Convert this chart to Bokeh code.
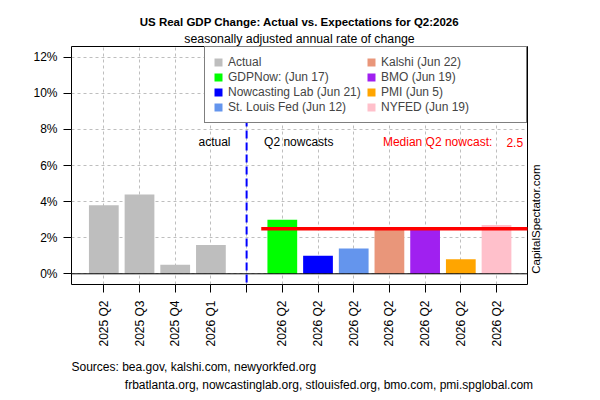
import math
import numpy as np
from bokeh.plotting import figure
from bokeh.models import (Range1d, FixedTicker, Label, Span, Legend, LegendItem,
                          ColumnDataSource, Title, LinearAxis)
from bokeh.embed import file_html
from bokeh.resources import INLINE

# Completed quarters (real GDP, SAAR %)
actual_quarters = ["2025 Q2", "2025 Q3", "2025 Q4", "2026 Q1"]
actual_values = [3.8, 4.4, 0.5, 1.6]
actual_color = "#BEBEBE"

# Nowcasts for Q2 2026
nowcast_quarter = "2026 Q2"
nowcast_sources = ["GDPNow: (Jun 17)", "Nowcasting Lab (Jun 21)", "St. Louis Fed (Jun 12)",
                   "Kalshi (Jun 22)", "BMO (Jun 19)", "PMI (Jun 5)", "NYFED (Jun 19)"]
nowcast_values = [3.0, 1.0, 1.4, 2.5, 2.5, 0.8, 2.7]
nowcast_colors = ["#00FF00", "#0000FF", "#6495ED", "#E9967A", "#A020F0", "#FFA500", "#FFC0CB"]

y_ticks = [0, 2, 4, 6, 8, 10, 12]

FONT = "Liberation Sans"
NBSP = "\u00a0"

# slot layout: actual bars, one empty separator slot, then the nowcasts
actual_x = list(range(len(actual_quarters)))
sep_x = len(actual_quarters)
nowcast_x = [sep_x + 1 + i for i in range(len(nowcast_values))]
median_nowcast = float(np.median(nowcast_values))

tick_labels = {}
for x, q in zip(actual_x, actual_quarters):
    tick_labels[x] = q
tick_labels[sep_x] = ""
for x in nowcast_x:
    tick_labels[x] = nowcast_quarter

p = figure(width=600, height=400, output_backend="svg", toolbar_location=None,
           title=None,
           x_range=Range1d(-0.905, 11.868), y_range=Range1d(-0.593, 12.593),
           min_border_left=71, min_border_right=73, min_border_top=46,
           min_border_bottom=116)
p.background_fill_color = "white"
p.border_fill_color = "white"
p.outline_line_color = "black"
p.outline_line_width = 1

# grids
for g in (p.xgrid, p.ygrid):
    g.grid_line_color = "#BEBEBE"
    g.grid_line_dash = "3 3"
    g.grid_line_width = 1

# axes
p.xaxis.ticker = FixedTicker(ticks=list(tick_labels.keys()))
p.xaxis.major_label_overrides = {k: v for k, v in tick_labels.items()}
p.xaxis.major_label_orientation = math.pi / 2
p.yaxis.ticker = FixedTicker(ticks=y_ticks)
p.yaxis.major_label_overrides = {t: f"{t}%" for t in y_ticks}
for ax in (p.xaxis, p.yaxis):
    ax.axis_line_color = None
    ax.major_tick_line_color = "black"
    ax.major_tick_out = 8
    ax.major_tick_in = 0
    ax.minor_tick_line_color = None
    ax.major_label_text_font = FONT
    ax.major_label_text_font_size = "12px"
    ax.major_label_text_color = "black"
p.xaxis.major_label_standoff = 8
p.yaxis.major_label_standoff = 6

# credit line along the right edge, starting at the zero line
credit_axis = LinearAxis(ticker=FixedTicker(ticks=[0]), axis_line_color=None,
                         major_tick_line_color=None, minor_tick_line_color=None,
                         major_tick_out=0, major_tick_in=0, major_label_standoff=9,
                         major_label_overrides={0: "CapitalSpectator.com"},
                         major_label_orientation=math.pi / 2,
                         major_label_text_font=FONT, major_label_text_font_size="11.5px",
                         major_label_text_color="black")
p.add_layout(credit_axis, "right")

# bars
bar_w = 1 / 1.2
act_src = ColumnDataSource(dict(x=actual_x, top=actual_values))
r_act = p.vbar(x="x", top="top", bottom=0, width=bar_w, source=act_src,
               fill_color=actual_color, line_color=None)
now_src = ColumnDataSource(dict(x=nowcast_x, top=nowcast_values, color=nowcast_colors,
                                name=nowcast_sources))
r_now = p.vbar(x="x", top="top", bottom=0, width=bar_w, source=now_src,
               fill_color="color", line_color=None)

# zero line and separator between actuals and nowcasts
p.add_layout(Span(location=0, dimension="width", line_color="black", line_width=1))
p.add_layout(Span(location=sep_x, dimension="height", line_color="#0000FF",
                  line_width=2, line_dash="8 4"))

# median nowcast line
p.segment(x0=[nowcast_x[0] - 0.59], x1=[nowcast_x[-1] + 1.0],
          y0=[median_nowcast], y1=[median_nowcast], line_color="#FF0000", line_width=3.5)

# in-plot labels
def data_label(x, y, text, color="black", align="center"):
    p.add_layout(Label(x=x, y=y, text=text, text_font=FONT, text_font_size="12px",
                       text_color=color, text_align=align, text_baseline="middle"))

data_label(3.1, 7.3, "actual")
data_label(5.46, 7.3, "Q2 nowcasts")
data_label(9.35, 7.3, "Median Q2 nowcast:", color="#FF0000")
data_label(11.51, 7.3, f"{median_nowcast:.1f}", color="#FF0000")

# legend
items = [LegendItem(label="Actual", renderers=[r_act], index=0)]
for i, name in enumerate(nowcast_sources):
    items.append(LegendItem(label=name, renderers=[r_now], index=i))
legend = Legend(items=items, location="top_right", orientation="vertical", nrows=4,
                border_line_color="black", border_line_width=1,
                background_fill_color="white", background_fill_alpha=1.0,
                padding=8, spacing=1, margin=0, glyph_width=10, glyph_height=10,
                label_standoff=5, label_height=14, label_width=137,
                label_text_font=FONT, label_text_font_size="12px")
p.add_layout(legend)

# title and subtitle (first one added sits next to the frame)
p.add_layout(Title(text="seasonally adjusted annual rate of change", align="center",
                   vertical_align="middle", standoff=0, text_font=FONT,
                   text_font_size="12.3px", text_font_style="normal",
                   text_color="black"), "above")
p.add_layout(Title(text="US Real GDP Change: Actual vs. Expectations for Q2:2026",
                   align="center", vertical_align="middle", standoff=4,
                   text_font=FONT, text_font_size="11.5px", text_font_style="bold",
                   text_color="black"), "above")

# sources under the axis
sources_text = ("Sources: bea.gov, kalshi.com, newyorkfed.org\n" + NBSP * 16 +
                "frbatlanta.org, nowcastinglab.org, stlouisfed.org, bmo.com, pmi.spglobal.com")
p.add_layout(Title(text=sources_text, align="left", vertical_align="bottom", standoff=17,
                   offset=0, text_font=FONT, text_font_size="12px",
                   text_font_style="normal", text_line_height=1.3,
                   text_color="black"), "below")

open("out.html", "w").write(file_html(p, INLINE))
